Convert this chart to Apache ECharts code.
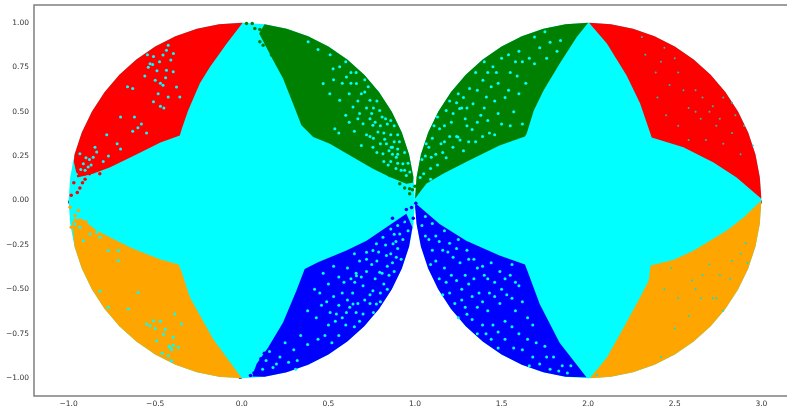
<!DOCTYPE html>
<html><head><meta charset="utf-8">
<style>html,body{margin:0;padding:0;background:#fff;overflow:hidden}#c{width:787px;height:411px}</style>
<script src="https://cdn.jsdelivr.net/npm/echarts@6/dist/echarts.min.js"></script>
</head><body><div id="c"></div>
<script>
const xTicks=[-1,-0.5,0,0.5,1,1.5,2,2.5,3];
const yTicks=[-1,-0.75,-0.5,-0.25,0,0.25,0.5,0.75,1];
// Outlines of the regions
const cyanLeft=[[1,0],[.991,.131],[.966,.259],[.924,.383],[.866,.5],[.793,.609],[.707,.707],[.609,.793],[.5,.866],[.383,.924],[.259,.966],[.131,.991],[0,1],[-.131,.991],[-.259,.966],[-.383,.924],[-.5,.866],[-.609,.793],[-.707,.707],[-.793,.609],[-.866,.5],[-.924,.383],[-.966,.259],[-.991,.131],[-1,0],[-.991,-.131],[-.966,-.259],[-.924,-.383],[-.866,-.5],[-.793,-.609],[-.707,-.707],[-.609,-.793],[-.5,-.866],[-.383,-.924],[-.259,-.966],[-.131,-.991],[0,-1],[.131,-.991],[.259,-.966],[.383,-.924],[.5,-.866],[.609,-.793],[.707,-.707],[.793,-.609],[.866,-.5],[.924,-.383],[.966,-.259],[.991,-.131]];
const cyanRight=[[3,0],[2.991,.131],[2.966,.259],[2.924,.383],[2.866,.5],[2.793,.609],[2.707,.707],[2.609,.793],[2.5,.866],[2.383,.924],[2.259,.966],[2.131,.991],[2,1],[1.869,.991],[1.741,.966],[1.617,.924],[1.5,.866],[1.391,.793],[1.293,.707],[1.207,.609],[1.134,.5],[1.076,.383],[1.034,.259],[1.009,.131],[1,0],[1.009,-.131],[1.034,-.259],[1.076,-.383],[1.134,-.5],[1.207,-.609],[1.293,-.707],[1.391,-.793],[1.5,-.866],[1.617,-.924],[1.741,-.966],[1.869,-.991],[2,-1],[2.131,-.991],[2.259,-.966],[2.383,-.924],[2.5,-.866],[2.609,-.793],[2.707,-.707],[2.793,-.609],[2.866,-.5],[2.924,-.383],[2.966,-.259],[2.991,-.131]];
const redLeft=[[.005,1],[-.087,.884],[-.185,.75],[-.242,.66],[-.31,.507],[-.346,.405],[-.358,.366],[-.47,.327],[-.606,.26],[-.76,.187],[-.86,.15],[-.95,.13],[-.97,.22],[-.966,.259],[-.924,.383],[-.866,.5],[-.793,.609],[-.707,.707],[-.609,.793],[-.5,.866],[-.383,.924],[-.259,.966],[-.131,.991]];
const greenLeft=[[.1,.94],[.18,.79],[.238,.686],[.296,.545],[.344,.423],[.412,.357],[.508,.32],[.642,.244],[.757,.179],[.854,.132],[.95,.094],[.988,.1],[.991,.131],[.966,.259],[.924,.383],[.866,.5],[.793,.609],[.707,.707],[.609,.793],[.5,.866],[.383,.924],[.259,.966],[.131,.991]];
const orangeLeft=[[0,-1],[-.165,-.78],[-.3,-.545],[-.348,-.4],[-.366,-.36],[-.473,-.33],[-.627,-.272],[-.742,-.216],[-.838,-.169],[-.93,-.1],[-.98,-.12],[-.966,-.259],[-.924,-.383],[-.866,-.5],[-.793,-.609],[-.707,-.707],[-.609,-.793],[-.5,-.866],[-.383,-.924],[-.259,-.966],[-.131,-.991]];
const blueLeft=[[.95,-.075],[.835,-.15],[.72,-.226],[.604,-.282],[.44,-.348],[.363,-.385],[.315,-.508],[.238,-.686],[.152,-.827],[.085,-.92],[.06,-.99],[.131,-.991],[.259,-.966],[.383,-.924],[.5,-.866],[.609,-.793],[.707,-.707],[.793,-.609],[.866,-.5],[.924,-.383],[.966,-.259],[.985,-.15]];
const greenRight=[[2,1],[1.933,.918],[1.835,.77],[1.743,.62],[1.686,.507],[1.645,.377],[1.635,.36],[1.488,.31],[1.315,.226],[1.162,.15],[1.065,.094],[1,.01],[1.009,.131],[1.034,.259],[1.076,.383],[1.134,.5],[1.207,.609],[1.293,.707],[1.391,.793],[1.5,.866],[1.617,.924],[1.741,.966],[1.869,.991]];
const redRight=[[2.005,1],[2.108,.884],[2.222,.704],[2.3,.546],[2.367,.355],[2.55,.3],[2.724,.214],[2.857,.13],[3,.01],[2.991,.131],[2.966,.259],[2.924,.383],[2.866,.5],[2.793,.609],[2.707,.707],[2.609,.793],[2.5,.866],[2.383,.924],[2.259,.966],[2.131,.991]];
const blueRight=[[1.008,-.02],[1.142,-.132],[1.296,-.226],[1.488,-.31],[1.635,-.36],[1.645,-.385],[1.72,-.583],[1.835,-.8],[1.99,-.995],[1.869,-.991],[1.741,-.966],[1.617,-.924],[1.5,-.866],[1.391,-.793],[1.293,-.707],[1.207,-.609],[1.134,-.5],[1.076,-.383],[1.034,-.259],[1.009,-.131],[1,-.03]];
const orangeRight=[[2.01,-1],[2.108,-.884],[2.205,-.715],[2.3,-.545],[2.35,-.45],[2.36,-.366],[2.494,-.333],[2.61,-.282],[2.8,-.169],[2.897,-.096],[3,0],[2.991,-.131],[2.966,-.259],[2.924,-.383],[2.866,-.5],[2.793,-.609],[2.707,-.707],[2.609,-.793],[2.5,-.866],[2.383,-.924],[2.259,-.966],[2.131,-.991]];
// Points where the cyan shows through the coloured regions
const gapsRedLeft=[[-.53,.77],[-.49,.73],[-.54,.75],[-.435,.845],[-.395,.827],[-.455,.818],[-.425,.874],[-.5,.677],[-.455,.648],[-.377,.639],[-.435,.733],[-.396,.724],[-.483,.6],[-.425,.583],[-.51,.555],[-.358,.583],[-.915,.207],[-.887,.188],[-.858,.244],[-.935,.263],[-.954,.15],[-.838,.273],[-.848,.3],[-.72,.32],[-.7,.29],[-.62,.47],[-.58,.43],[-.63,.39],[-.7,.47],[-.78,.37],[-.6,.41],[-.55,.38],[-.56,.7],[-.66,.64],[-.63,.63],[-.45,.52],[-.47,.53],[-.8,.22],[-.77,.25],[-.905,.17],[-.93,.175],[-.475,.78],[-.51,.81],[-.545,.82],[-.515,.765],[-.47,.66],[-.44,.69],[-.41,.79],[-.88,.23],[-.9,.24],[-.87,.2]];
const gapsGreenLeft=[[.527,.742],[.565,.752],[.604,.695],[.662,.658],[.71,.61],[.74,.564],[.796,.507],[.757,.423],[.786,.385],[.835,.32],[.863,.3],[.892,.244],[.93,.207],[.815,.263],[.757,.3],[.7,.432],[.68,.489],[.642,.526],[.537,.404],[.565,.564],[.508,.6],[.47,.658],[.383,.893],[.77,.44],[.8,.42],[.82,.38],[.86,.37],[.84,.43],[.88,.33],[.9,.29],[.8,.32],[.78,.27],[.86,.22],[.92,.17],[.95,.14],[.89,.18],[.72,.52],[.75,.49],[.78,.56],[.67,.56],[.62,.6],[.6,.48],[.65,.39],[.72,.37],[.69,.31],[.96,.21],[.94,.27],[.91,.33],[.88,.42],[.71,.68],[.66,.72],[.825,.345],[.85,.28],[.87,.26],[.9,.21],[.94,.17],[.97,.16],[.845,.2],[.82,.22],[.74,.36],[.76,.35],[.83,.46],[.86,.45],[.9,.37],[.87,.3],[.9,.26],[.63,.66],[.58,.66],[.53,.68],[.6,.78],[.51,.82],[.44,.85],[.67,.46],[.62,.44],[.74,.46],[.56,.38],[.81,.47],[.76,.52],[.69,.6],[.73,.64],[.63,.72]];
const gapsGreenRight=[[1.258,.517],[1.248,.357],[1.315,.63],[1.392,.677],[1.18,.507],[1.142,.404],[1.065,.32],[1.094,.244],[1.219,.3],[1.335,.545],[1.412,.583],[1.45,.752],[1.27,.52],[1.24,.36],[1.26,.34],[1.3,.42],[1.36,.44],[1.42,.45],[1.48,.49],[1.21,.44],[1.15,.32],[1.12,.26],[1.05,.15],[1.09,.18],[1.04,.23],[1.18,.24],[1.28,.28],[1.35,.33],[1.46,.37],[1.52,.58],[1.57,.5],[1.48,.66],[1.55,.72],[1.6,.84],[1.66,.8],[1.72,.86],[1.78,.89],[1.84,.9],[1.75,.95],[1.64,.66],[1.58,.78],[1.5,.8],[1.42,.72],[1.36,.62],[1.2,.56],[1.25,.6],[1.3,.52],[1.39,.36],[1.55,.42],[1.62,.43],[1.6,.6],[1.35,.72],[1.17,.42],[1.1,.35],[1.13,.2],[1.08,.3],[1.16,.27],[1.2,.36],[1.22,.49],[1.29,.46],[1.33,.4],[1.4,.52],[1.44,.64],[1.28,.58],[1.24,.55],[1.17,.33],[1.31,.33],[1.43,.38],[1.5,.43],[1.54,.62],[1.59,.7],[1.46,.56],[1.38,.48],[1.11,.42],[1.13,.47],[1.06,.25],[1.03,.13],[1.09,.12],[1.69,.77],[1.76,.8],[1.82,.84],[1.69,.92],[1.62,.78],[1.54,.82],[1.47,.72],[1.4,.78]];
const gapsBlueLeft=[[.72,-.291],[.757,-.282],[.777,-.244],[.815,-.207],[.873,-.244],[.912,-.188],[.835,-.31],[.892,-.32],[.796,-.404],[.652,-.46],[.662,-.423],[.623,-.6],[.604,-.63],[.642,-.583],[.7,-.639],[.546,-.639],[.777,-.583],[.757,-.508],[.9,-.14],[.86,-.16],[.93,-.22],[.9,-.27],[.84,-.37],[.88,-.4],[.82,-.47],[.72,-.4],[.68,-.34],[.61,-.38],[.56,-.43],[.5,-.47],[.53,-.54],[.58,-.52],[.64,-.52],[.7,-.48],[.74,-.58],[.68,-.68],[.6,-.7],[.5,-.7],[.56,-.76],[.46,-.59],[.42,-.5],[.38,-.62],[.44,-.78],[.38,-.81],[.3,-.84],[.22,-.88],[.18,-.94],[.14,-.9],[.12,-.95],[.32,-.9],[.72,-.33],[.78,-.34],[.65,-.3],[.8,-.52],[.94,-.12],[.96,-.17],[.88,-.19],[.83,-.25],[.79,-.29],[.75,-.36],[.86,-.3],[.92,-.33],[.87,-.35],[.81,-.41],[.77,-.44],[.74,-.53],[.71,-.56],[.67,-.58],[.66,-.63],[.61,-.56],[.56,-.59],[.59,-.46],[.53,-.37],[.47,-.41],[.45,-.52],[.49,-.57],[.51,-.63],[.43,-.66],[.54,-.68],[.58,-.66],[.66,-.41],[.63,-.44],[.69,-.43],[.8,-.57],[.85,-.42],[.76,-.63],[.65,-.71],[.52,-.8],[.48,-.76],[.27,-.91],[.2,-.92],[.16,-.85],[.25,-.8],[.34,-.76],[.31,-.95],[.84,-.5],[.89,-.23]];
const gapsBlueRight=[[1.06,-.09],[1.1,-.13],[1.12,-.2],[1.08,-.22],[1.17,-.17],[1.16,-.28],[1.2,-.24],[1.25,-.22],[1.22,-.32],[1.17,-.38],[1.12,-.34],[1.14,-.44],[1.21,-.42],[1.26,-.35],[1.3,-.28],[1.34,-.33],[1.29,-.42],[1.34,-.44],[1.39,-.37],[1.44,-.35],[1.42,-.44],[1.49,-.4],[1.55,-.42],[1.5,-.5],[1.43,-.52],[1.37,-.52],[1.27,-.5],[1.2,-.52],[1.23,-.58],[1.29,-.6],[1.36,-.6],[1.42,-.62],[1.49,-.58],[1.56,-.55],[1.6,-.48],[1.33,-.67],[1.39,-.7],[1.45,-.7],[1.52,-.68],[1.44,-.78],[1.52,-.78],[1.6,-.75],[1.65,-.66],[1.62,-.84],[1.68,-.88],[1.75,-.82],[1.72,-.92],[1.8,-.88],[1.85,-.93],[1.78,-.95],[1.66,-.93],[1.25,-.66],[1.56,-.36],[1.04,-.14],[1.06,-.2],[1.1,-.28],[1.09,-.36],[1.14,-.23],[1.19,-.29],[1.24,-.27],[1.18,-.46],[1.16,-.53],[1.24,-.45],[1.31,-.47],[1.33,-.54],[1.27,-.56],[1.39,-.57],[1.46,-.46],[1.52,-.44],[1.58,-.46],[1.53,-.53],[1.46,-.54],[1.4,-.42],[1.36,-.38],[1.31,-.33],[1.3,-.64],[1.36,-.75],[1.41,-.75],[1.48,-.74],[1.56,-.71],[1.58,-.62],[1.62,-.57],[1.68,-.7],[1.57,-.83],[1.7,-.8],[1.76,-.88],[1.83,-.96],[1.9,-.93],[1.88,-.97],[1.65,-.78],[1.48,-.83]];
const gapsOrangeLeft=[[-.51,-.677],[-.452,-.752],[-.415,-.827],[-.396,-.77],[-.53,-.705],[-.442,-.724],[-.492,-.789],[-.367,-.827],[-.425,-.874],[-.406,-.902],[-.348,-.695],[-.387,-.639],[-.55,-.695],[-.656,-.611],[-.771,-.6],[-.819,-.511],[-.598,-.517],[-.713,-.338],[-.771,-.282],[-.713,-.282],[-.819,-.207],[-.877,-.188],[-.935,-.15],[-.963,-.132],[-.838,-.179],[-.915,-.226],[-.405,-.84],[-.42,-.82],[-.395,-.815],[-.5,-.72],[-.46,-.86],[-.47,-.68]];
const gapsFineRed=[[2.42,.78],[2.62,.62],[2.58,.52],[2.65,.46],[2.58,.34],[2.74,.42],[2.83,.38],[2.72,.53],[2.88,.26],[2.45,.48],[2.39,.72],[2.5,.8],[2.68,.34],[2.4,.58],[2.78,.58],[2.9,.42],[2.85,.48],[2.95,.31],[2.78,.32],[2.31,.92],[2.52,.72],[2.55,.62],[2.62,.5],[2.7,.5],[2.66,.58],[2.33,.82],[2.47,.65],[2.52,.42],[2.76,.46],[2.83,.55],[2.44,.86]];
const gapsFineOrange=[[2.72,-.55],[2.74,-.55],[2.78,-.62],[2.83,-.34],[2.88,-.3],[2.91,-.24],[2.6,-.45],[2.48,-.38],[2.66,-.42],[2.82,-.44],[2.52,-.55],[2.58,-.65],[2.44,-.5],[2.42,-.88],[2.62,-.5],[2.7,-.36],[2.92,-.35],[2.05,-.98],[2.5,-.72],[2.76,-.42],[2.65,-.55]];
const dotsRed=[[-.985,.03],[-.95,.045],[-.97,.1],[-.92,.1],[-.935,.07],[-.945,.16],[-.905,.15],[-.88,.15],[-.82,.15],[-.905,.12]];
const dotsGreen=[[.027,.996],[.06,.996],[.075,.968],[.104,.962],[.104,.893],[.123,.874],[.171,.818],[.969,.038],[.969,.066],[.912,.094],[.854,.141],[.985,.06],[1,.08],[.94,.07],[.16,.97]];
const dotsOrange=[[-.992,-.038],[-.944,-.056],[-.963,-.085],[-.935,-.113],[-.877,-.16],[-.985,-.15],[-.96,-.11],[-.9,-.12]];
const dotsBlue=[[.95,-.05],[.98,-.04],[.93,-.11],[.87,-.1],[.1,-.96],[.07,-.97],[.05,-.985],[.085,-.95],[.11,-.89],[.13,-.86],[1.005,-.015],[.99,-.1]];
const chart=echarts.init(document.getElementById('c'),null,{renderer:'canvas'});
function region(name,color,pts){return {name,type:'custom',coordinateSystem:'cartesian2d',silent:true,data:pts,clip:false,
  renderItem:(p,api)=>p.dataIndex===0?{type:'polygon',shape:{points:pts.map(q=>api.coord(q))},style:{fill:color}}:null};}
function dots(name,color,pts,size){return {name,type:'scatter',data:pts,symbolSize:size,itemStyle:{color,opacity:1},silent:true};}
const fmt=(v,d)=>v.toFixed(d).replace('-','\u2212');
const spine='#7f7f7f';
chart.setOption({animation:false,backgroundColor:'#fff',
 grid:{left:34,top:5,width:762,height:391,outerBoundsMode:'none',containLabel:false,show:true,borderColor:spine,borderWidth:1.5,backgroundColor:'#fff'},
 xAxis:{type:'value',min:-1.2,max:3.2,splitLine:{show:false},axisLine:{show:false},
  axisTick:{show:true,length:3,customValues:xTicks,lineStyle:{color:'#444',width:1}},
  axisLabel:{customValues:xTicks,margin:4,fontFamily:'DejaVu Sans',fontSize:7.5,color:'#333',formatter:v=>fmt(v,1)}},
 yAxis:{type:'value',min:-1.1,max:1.1,splitLine:{show:false},axisLine:{show:false},
  axisTick:{show:true,length:3,customValues:yTicks,lineStyle:{color:'#444',width:1}},
  axisLabel:{customValues:yTicks,margin:5,fontFamily:'DejaVu Sans',fontSize:7.5,color:'#333',formatter:v=>fmt(v,2)}},
 series:[region('cyanL','#00ffff',cyanLeft),region('cyanR','#00ffff',cyanRight),
  region('redL','#ff0000',redLeft),region('greenL','#008000',greenLeft),region('orangeL','#ffa500',orangeLeft),region('blueL','#0000ff',blueLeft),
  region('greenR','#008000',greenRight),region('redR','#ff0000',redRight),region('blueR','#0000ff',blueRight),region('orangeR','#ffa500',orangeRight),
  dots('gapsRedL','#00ffff',gapsRedLeft,3),dots('gapsGreenL','#00ffff',gapsGreenLeft,3),dots('gapsGreenR','#00ffff',gapsGreenRight,3),
  dots('gapsBlueL','#00ffff',gapsBlueLeft,3),dots('gapsBlueR','#00ffff',gapsBlueRight,3),dots('gapsOrangeL','#00ffff',gapsOrangeLeft,3),
  dots('gapsFineR','#2fb5b5',gapsFineRed,2),dots('gapsFineO','#00e0e0',gapsFineOrange,2),
  dots('r','#ff0000',dotsRed,3.5),dots('g','#008000',dotsGreen,3.5),dots('o','#ffa500',dotsOrange,3.5),dots('b','#0000ff',dotsBlue,3.5)]
});
</script></body></html>
